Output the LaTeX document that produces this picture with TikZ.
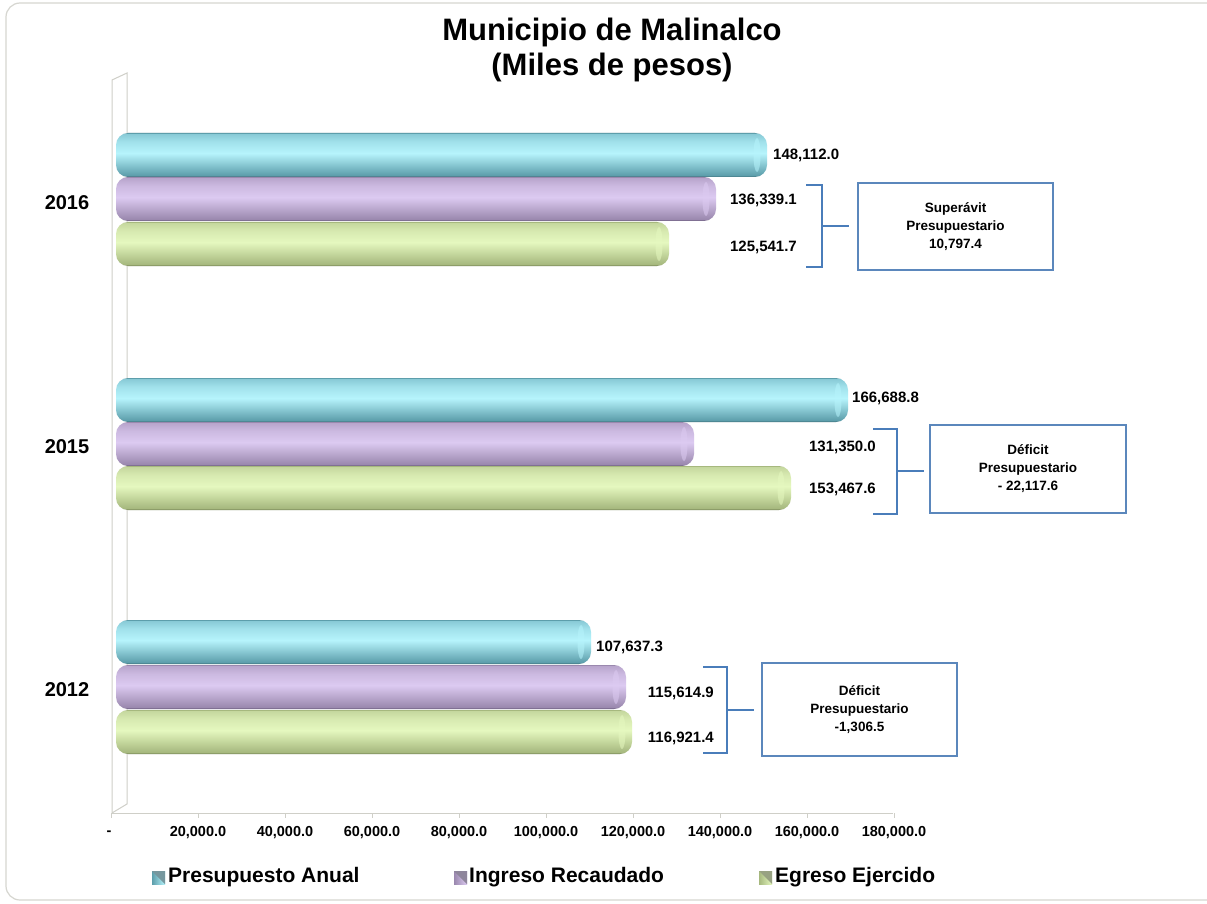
\documentclass[tikz,border=0pt]{standalone}
\usepackage{fontspec}
\setmainfont{Liberation Sans}
\definecolor{cyE}{HTML}{3B6A75}
\definecolor{cyD}{HTML}{5D9EAB}
\definecolor{cyH}{HTML}{B6F4FC}
\definecolor{cyT}{HTML}{88CAD6}
\definecolor{puE}{HTML}{5E5070}
\definecolor{puD}{HTML}{9A88AE}
\definecolor{puH}{HTML}{DCCAF1}
\definecolor{puT}{HTML}{B8A5CC}
\definecolor{grE}{HTML}{6C7A4C}
\definecolor{grD}{HTML}{A6B87E}
\definecolor{grH}{HTML}{E5F8BF}
\definecolor{grT}{HTML}{C5D79E}
\definecolor{framegray}{HTML}{D6D6D0}
\definecolor{wallgray}{HTML}{CFCFC8}
\definecolor{brkblue}{HTML}{4A7DBA}
\definecolor{boxblue}{HTML}{5B87BC}
\pgfdeclareverticalshading{cyanS}{100bp}{color(0bp)=(cyE); color(25bp)=(cyE); color(27bp)=(cyD); color(37bp)=(cyD!60!cyH); color(52bp)=(cyH); color(65bp)=(cyH!55!cyT); color(74bp)=(cyT); color(75bp)=(cyD); color(100bp)=(cyD)}
\pgfdeclareverticalshading{purpS}{100bp}{color(0bp)=(puE); color(25bp)=(puE); color(27bp)=(puD); color(37bp)=(puD!60!puH); color(52bp)=(puH); color(65bp)=(puH!55!puT); color(74bp)=(puT); color(75bp)=(puD); color(100bp)=(puD)}
\pgfdeclareverticalshading{grnS}{100bp}{color(0bp)=(grE); color(25bp)=(grE); color(27bp)=(grD); color(37bp)=(grD!60!grH); color(52bp)=(grH); color(65bp)=(grH!55!grT); color(74bp)=(grT); color(75bp)=(grD); color(100bp)=(grD)}
\newcommand\cylbar[4]{%
  \shade[shading=#1, rounded corners=12pt] (116,#3) rectangle (#2,#3+44);
  \fill[#4, opacity=.55] ({#2-10},{#3+22}) ellipse[x radius=3.5, y radius=17];
}
\begin{document}
\begin{tikzpicture}[x=1pt,y=-1pt,
  val/.style={font=\bfseries\fontsize{15}{18}\selectfont, inner sep=0pt},
  yearlbl/.style={font=\bfseries\fontsize{20}{24}\selectfont, inner sep=0pt},
  axlbl/.style={font=\bfseries\fontsize{14.5}{17}\selectfont, inner sep=0pt},
  leglbl/.style={font=\bfseries\fontsize{21}{25}\selectfont, inner sep=0pt, anchor=west},
  titlelbl/.style={font=\bfseries\fontsize{31}{35}\selectfont, align=center, inner sep=0pt},
  brk/.style={draw=brkblue, line width=2.2pt},
  infobox/.style={draw=boxblue, line width=1.5pt, fill=white, align=center, inner sep=0pt,
    font=\bfseries\fontsize{13.5}{18}\selectfont},
  wall/.style={draw=wallgray, line width=1pt}
]
\useasboundingbox (0,0) rectangle (1207,904);
\fill[white] (0,0) rectangle (1207,904);
\draw[framegray, line width=1.2pt, rounded corners=14pt] (6,3) rectangle (1230,900);

% title
\node[titlelbl] (title) at (612,50) {Municipio de Malinalco\\(Miles de pesos)};

% walls and axis
\draw[wall] (112,80) -- (127,73) -- (127,804) -- (112,813) -- cycle;
\draw[wall] (112,813) -- (893,813);
\foreach \i in {0,...,9} {
  \draw[wall] ({111+87*\i},813) -- ({111+87*\i},818);
}
\node[axlbl] (t0) at (109,833) {-};
\foreach \i/\t in {1/{20,000.0},2/{40,000.0},3/{60,000.0},4/{80,000.0},5/{100,000.0},6/{120,000.0},7/{140,000.0},8/{160,000.0},9/{180,000.0}} {
  \node[axlbl] (t\i) at ({111+87*\i},833) {\t};
}

% bars 2016
\cylbar{cyanS}{767}{133}{cyH}
\cylbar{purpS}{716}{177}{puH}
\cylbar{grnS}{669}{222}{grH}
% bars 2015
\cylbar{cyanS}{848}{378}{cyH}
\cylbar{purpS}{694}{422}{puH}
\cylbar{grnS}{791}{466}{grH}
% bars 2012
\cylbar{cyanS}{591}{620}{cyH}
\cylbar{purpS}{626}{665}{puH}
\cylbar{grnS}{632}{710}{grH}

% years
\node[yearlbl] (y16) at (67,203) {2016};
\node[yearlbl] (y15) at (67,447) {2015};
\node[yearlbl] (y12) at (67,690) {2012};

% value labels
\node[val, anchor=west] (v16a) at (773,155) {148,112.0};
\node[val, anchor=east] (v16b) at (797,200) {136,339.1};
\node[val, anchor=east] (v16c) at (797,247) {125,541.7};
\node[val, anchor=west] (v15a) at (852,398) {166,688.8};
\node[val, anchor=east] (v15b) at (876,447) {131,350.0};
\node[val, anchor=east] (v15c) at (876,489) {153,467.6};
\node[val, anchor=west] (v12a) at (596,647) {107,637.3};
\node[val, anchor=east] (v12b) at (714,693) {115,614.9};
\node[val, anchor=east] (v12c) at (714,738) {116,921.4};

% boxes
\node[infobox, minimum width=195pt, minimum height=87pt] (box16) at (955.5,226.5) {Superávit\\Presupuestario\\10,797.4};
\node[infobox, minimum width=196pt, minimum height=88pt] (box15) at (1028,469) {Déficit\\Presupuestario\\- 22,117.6};
\node[infobox, minimum width=195pt, minimum height=93pt] (box12) at (859.5,709.5) {Déficit\\Presupuestario\\-1,306.5};

% brackets
\draw[brk] (806,185) -- (822,185) -- (822,267) -- (806,267);
\coordinate (k16) at (822,226);
\draw[brk, shorten >=8pt] (k16) -- (box16.west |- k16);
\draw[brk] (873,429) -- (897,429) -- (897,514) -- (873,514);
\coordinate (k15) at (897,471);
\draw[brk, shorten >=5pt] (k15) -- (box15.west |- k15);
\draw[brk] (703,667) -- (727,667) -- (727,753) -- (703,753);
\coordinate (k12) at (727,710);
\draw[brk, shorten >=7pt] (k12) -- (box12.west |- k12);

% legend
\shade[left color=cyD, right color=cyH] (152,871) rectangle (165,884);
\fill[cyE!70] (152,871) -- (165,871) -- (165,884) -- cycle;
\node[leglbl] (l1) at (168,877) {Presupuesto Anual};
\shade[left color=puD, right color=puH] (454,871) rectangle (467,884);
\fill[puE!70] (454,871) -- (467,871) -- (467,884) -- cycle;
\node[leglbl] (l2) at (469,877) {Ingreso Recaudado};
\shade[left color=grD, right color=grH] (759,871) rectangle (772,884);
\fill[grE!70] (759,871) -- (772,871) -- (772,884) -- cycle;
\node[leglbl] (l3) at (775,877) {Egreso Ejercido};
\end{tikzpicture}
\end{document}
